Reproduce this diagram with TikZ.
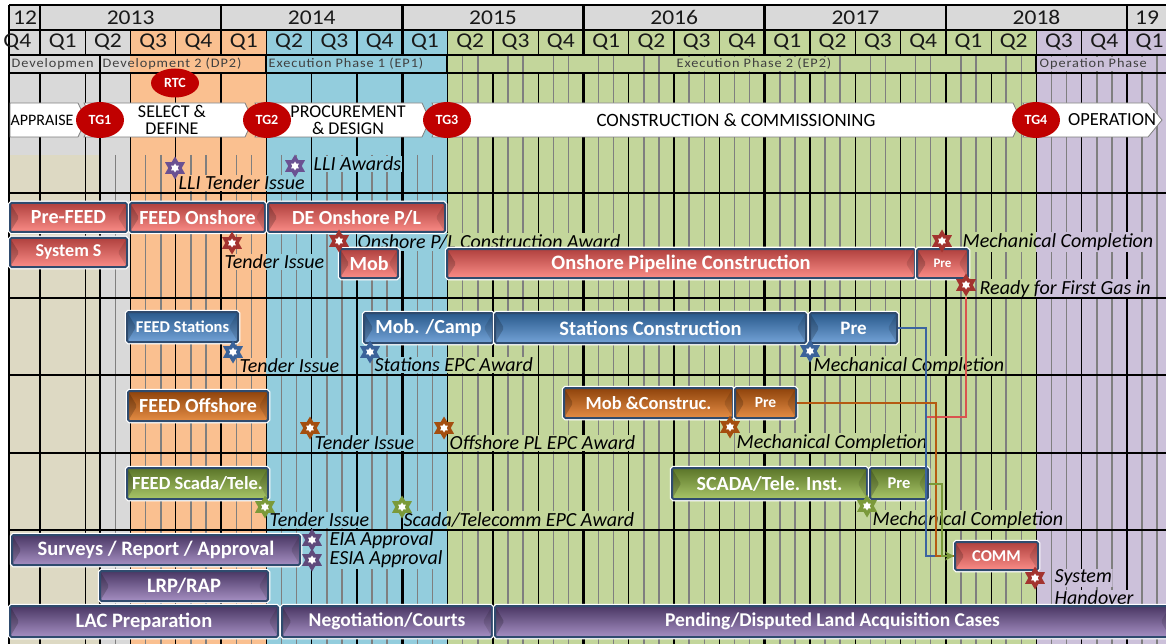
\documentclass[tikz,border=0pt]{standalone}
\usepackage{fontspec}
\setmainfont{Carlito}
\newfontfamily\hdfont[FakeStretch=1.12]{Carlito}
\newfontfamily\phfont[FakeStretch=1.1,LetterSpace=7]{Carlito}
\usetikzlibrary{shapes.geometric,arrows.meta}
\pgfdeclarelayer{bg}
\pgfdeclarelayer{patch}
\pgfsetlayers{bg,patch,main}

\definecolor{cgrey}{HTML}{D9D9D9}
\definecolor{cbeige}{HTML}{DDD9C3}
\definecolor{corange}{HTML}{FAC090}
\definecolor{cblue}{HTML}{93CDDD}
\definecolor{cgreen}{HTML}{C3D69B}
\definecolor{cpurple}{HTML}{CCC1DA}
\definecolor{mgrey}{HTML}{7F7F7F}
\definecolor{tgred}{HTML}{C00000}
\definecolor{baredge}{HTML}{2F4B6E}
\definecolor{redT}{HTML}{B0413E}
\definecolor{redM}{HTML}{D95E5A}
\definecolor{redB}{HTML}{FA8C87}
\definecolor{bluT}{HTML}{2A5A8C}
\definecolor{bluM}{HTML}{3F72AB}
\definecolor{bluB}{HTML}{73A2D6}
\definecolor{oraT}{HTML}{8E430B}
\definecolor{oraM}{HTML}{BB5C17}
\definecolor{oraB}{HTML}{E58D45}
\definecolor{grnT}{HTML}{5B7529}
\definecolor{grnM}{HTML}{7D9B3D}
\definecolor{grnB}{HTML}{A8C568}
\definecolor{purT}{HTML}{4A3764}
\definecolor{purM}{HTML}{6B5389}
\definecolor{purB}{HTML}{A58FC2}
\definecolor{sPur}{HTML}{6B5192}
\definecolor{sRed}{HTML}{A3332F}
\definecolor{sBlu}{HTML}{3A6299}
\definecolor{sOra}{HTML}{A44E0F}
\definecolor{sGrn}{HTML}{7B9A3A}
\definecolor{sPur2}{HTML}{5F4A7B}
\definecolor{lBlu}{HTML}{3C64A0}
\definecolor{lOra}{HTML}{B55A12}
\definecolor{lGrn}{HTML}{7A9A3A}
\definecolor{lRed}{HTML}{D9534F}
\definecolor{phtext}{HTML}{404040}

\tikzset{
  hline/.style={black,line width=1.8pt},
  qline/.style={black,line width=1.2pt},
  yline/.style={black,line width=2.6pt},
  mline/.style={mgrey,line width=1.5pt},
  gbar/.style={rectangle,rounded corners=1.5pt,draw=baredge,line width=2pt,
    preaction={draw=white,line width=4.5pt},text=white,inner sep=0pt,
    path picture={
      \fill[black,opacity=0.2] (path picture bounding box.north west) -- ([xshift=9pt]path picture bounding box.west) -- (path picture bounding box.south west) -- cycle;
      \fill[black,opacity=0.12] (path picture bounding box.north east) -- ([xshift=-9pt]path picture bounding box.east) -- (path picture bounding box.south east) -- cycle;}},
  redbar/.style={gbar,top color=redT,middle color=redM,bottom color=redB},
  blubar/.style={gbar,top color=bluT,middle color=bluM,bottom color=bluB},
  orabar/.style={gbar,top color=oraT,middle color=oraM,bottom color=oraB},
  grnbar/.style={gbar,top color=grnT,middle color=grnM,bottom color=grnB},
  purbar/.style={gbar,top color=purT,middle color=purM,bottom color=purB},
  mst/.style={star,star points=6,star point ratio=1.7,minimum size=23pt,inner sep=0pt,draw=none},
  mstin/.style={star,star points=6,star point ratio=1.7,minimum size=9pt,inner sep=0pt,fill=white,draw=none},
  mlabel/.style={anchor=west,inner sep=0.5pt,font=\itshape\fontsize{20}{20}\selectfont},
  tg/.style={ellipse,fill=tgred,text=white,inner sep=0pt,font=\bfseries\fontsize{14}{14}\selectfont},
  chev/.style={fill=white,draw=mgrey,line width=0.8pt},
  chevtext/.style={align=center,font=\fontsize{18}{17}\selectfont,inner sep=0pt},
  yrtext/.style={font=\hdfont\fontsize{21}{21}\selectfont,text=black!90,inner sep=0pt},
  phlabel/.style={anchor=west,inner sep=0.5pt,text=phtext,font=\phfont\fontsize{13}{13}\selectfont},
  con/.style={line width=2pt},
}

\newcommand\bodybg{%
  \fill[cgrey] (10,55) rectangle (130,644);
  \fill[cbeige] (10,155) rectangle (100,644);
  \fill[corange] (130,55) rectangle (266,644);
  \fill[cblue] (266,55) rectangle (447,644);
  \fill[cgreen] (447,55) rectangle (1036,644);
  \fill[cpurple] (1036,55) rectangle (1170,644);}
\newcommand\lblpatch[1]{\begin{pgfonlayer}{patch}\begin{scope}
  \clip (#1.south west) rectangle (#1.north east); \bodybg\end{scope}\end{pgfonlayer}}
\newcommand\ml[4]{\node[mlabel] (#1) at (#2,#3) {#4}; \lblpatch{#1}}
\newcommand\ms[3]{\node[mst,fill=#3] (#1) at (#2) {}; \node[mstin] (#1in) at (#1.center) {};}
\newcommand\gb[8]{\node[#2,minimum width={(#5-#3)*1pt},minimum height={(#6-#4)*1pt},
  font=\bfseries\fontsize{#7}{#7}\selectfont] (#1) at ({(#3+#5)/2},{(#4+#6)/2}) {#8};}

\begin{document}
\begin{tikzpicture}[x=1pt,y=-1pt]
\useasboundingbox (0,0) rectangle (1166,644);
\begin{pgfonlayer}{bg}
  \fill[white] (0,0) rectangle (1166,644);
  % header rows
  \fill[cgrey] (10,5) rectangle (1170,30);
  \fill[cgrey] (10,30) rectangle (130,55);
  \fill[corange] (130,30) rectangle (266,55);
  \fill[cblue] (266,30) rectangle (447,55);
  \fill[cgreen] (447,30) rectangle (1036,55);
  \fill[cpurple] (1036,30) rectangle (1170,55);
  \bodybg
  % month lines
  \foreach \m in {4,...,74}{
    \pgfmathtruncatemacro\r{mod(\m,3)}
    \ifnum\r>0
      \pgfmathsetmacro\xx{40+15.0967*\m}
      \pgfmathsetmacro\ys{\xx>447?55:155}
      \draw[mline] (\xx,\ys) -- (\xx,644);
    \fi}
  % quarter and year lines
  \foreach \k in {0,...,24}{
    \pgfmathsetmacro\xx{40+45.29*\k}
    \pgfmathtruncatemacro\r{mod(\k,4)}
    \ifnum\r=0
      \draw[yline] (\xx,5) -- (\xx,55);
      \draw[yline] (\xx,73) -- (\xx,644);
    \else
      \draw[qline] (\xx,30) -- (\xx,55);
      \draw[qline] (\xx,73) -- (\xx,644);
    \fi}
  \draw[qline] (100,55) -- (100,644);
  \foreach \xx in {266,447,1036} \draw[qline] (\xx,55) -- (\xx,73);
\end{pgfonlayer}

% horizontal rules
\foreach \yy in {5,30,55} \draw[qline] (9,\yy) -- (1166,\yy);
\draw[hline] (9,73) -- (1166,73);
\foreach \yy in {193,298,375,453,530} \draw[hline] (9,\yy) -- (1166,\yy);
\draw[black,line width=2pt] (9,5) -- (9,644);

% header text
\node[yrtext] (y12) at (25,17.5) {12};
\node[yrtext] (y13) at (130.6,17.5) {2013};
\node[yrtext] (y14) at (311.8,17.5) {2014};
\node[yrtext] (y15) at (493,17.5) {2015};
\node[yrtext] (y16) at (674.2,17.5) {2016};
\node[yrtext] (y17) at (855.4,17.5) {2017};
\node[yrtext] (y18) at (1036.5,17.5) {2018};
\node[yrtext] (y19) at (1147,17.5) {19};
\foreach \k in {-1,...,24}{
  \pgfmathtruncatemacro\q{mod(\k+4,4)+1}
  \pgfmathsetmacro\xx{40+45.29*(\k+0.5)}
  \node[yrtext] (q\k) at (\xx,42.5) {Q\q};}

% phase labels
\node[phlabel] (ph1) at (11,64) {Developmen}; \lblpatch{ph1}
\node[phlabel] (ph2) at (102,64) {Development 2 (DP2)}; \lblpatch{ph2}
\node[phlabel] (ph3) at (268,64) {Execution Phase 1 (EP1)}; \lblpatch{ph3}
\node[phlabel] (ph4) at (676,64) {Execution Phase 2 (EP2)}; \lblpatch{ph4}
\node[phlabel] (ph5) at (1039,64) {Operation Phase}; \lblpatch{ph5}

% stage chevrons
\draw[chev] (10,103) -- (78,103) -- (86,120) -- (78,137) -- (10,137) -- cycle;
\draw[chev] (84,103) -- (245,103) -- (253,120) -- (245,137) -- (84,137) -- (92,120) -- cycle;
\draw[chev] (255,103) -- (422,103) -- (430,120) -- (422,137) -- (255,137) -- (263,120) -- cycle;
\draw[chev] (432,103) -- (1013,103) -- (1021,120) -- (1013,137) -- (432,137) -- (440,120) -- cycle;
\draw[chev] (1023,103) -- (1148,103) -- (1162,120) -- (1148,137) -- (1023,137) -- (1031,120) -- cycle;
\node[chevtext,font=\fontsize{16}{16}\selectfont] (tApp) at (42,120) {APPRAISE};
\node[chevtext] (tSel) at (172,120) {SELECT \&\\DEFINE};
\node[chevtext] (tPro) at (348,120) {PROCUREMENT\\\& DESIGN};
\node[chevtext,font=\fontsize{18.8}{18}\selectfont] (tCon) at (736,120) {CONSTRUCTION \& COMMISSIONING};
\node[chevtext,font=\fontsize{18.5}{18}\selectfont] (tOpe) at (1112,120) {OPERATION};
\node[tg,minimum width=48pt,minimum height=29pt] (rtc) at (175,83) {RTC};
\node[tg,minimum width=48pt,minimum height=36pt] (tg1) at (100,120) {TG1};
\node[tg,minimum width=48pt,minimum height=36pt] (tg2) at (267,120) {TG2};
\node[tg,minimum width=48pt,minimum height=36pt] (tg3) at (447,120) {TG3};
\node[tg,minimum width=48pt,minimum height=36pt] (tg4) at (1036,120) {TG4};

% milestone labels
\ml{lLLIt}{178}{183}{LLI Tender Issue}
\ml{lLLIa}{313}{164}{LLI Awards}
\ml{lOnT}{224}{262}{Tender Issue}
\ml{lOnA}{357}{242}{Onshore P/L Construction Award}
\ml{lOnM}{962}{242}{Mechanical Completion}
\ml{lOnR}{979}{289}{Ready for First Gas in}
\ml{lStT}{239}{366}{Tender Issue}
\ml{lStA}{374}{365}{Stations EPC Award}
\ml{lStM}{813}{366}{Mechanical Completion}
\ml{lOfT}{314}{443}{Tender Issue}
\ml{lOfA}{449}{443}{Offshore PL EPC Award}
\ml{lOfM}{736}{443}{Mechanical Completion}
\ml{lScT}{269}{520}{Tender Issue}
\ml{lScA}{403}{520}{Scada/Telecomm EPC Award}
\ml{lScM}{872}{520}{Mechanical Completion}
\ml{lEIA}{329}{540}{EIA Approval}
\ml{lESIA}{329}{559}{ESIA Approval}
\ml{lSys}{1054}{578}{System}
\ml{lHand}{1054}{598}{Handover}

% bars
\gb{prefeed}{redbar}{10}{203}{127}{232}{20}{Pre-FEED}
\gb{feedon}{redbar}{130}{203}{265}{232}{20}{FEED Onshore}
\gb{deon}{redbar}{268}{203}{445}{232}{20}{DE Onshore P/L}
\gb{systems}{redbar}{10}{238}{127}{267}{18}{System S}
\gb{mob}{redbar}{340}{249}{398}{278}{20}{Mob}
\gb{onpipe}{redbar}{447}{249}{915}{278}{20.5}{Onshore Pipeline Construction}
\gb{onpre}{redbar}{917}{249}{968}{278}{13}{Pre}
\gb{feedst}{blubar}{127}{312}{238}{342}{16.5}{FEED Stations}
\gb{mobcamp}{blubar}{364}{313}{493}{343}{20}{Mob. /Camp}
\gb{stcon}{blubar}{495}{313}{806}{343}{20.5}{Stations Construction}
\gb{stpre}{blubar}{810}{313}{897}{343}{19}{Pre}
\gb{feedoff}{orabar}{128}{391}{268}{421}{20}{FEED Offshore}
\gb{mobcon}{orabar}{564}{388}{733}{418}{18.5}{Mob \&Construc.}
\gb{offpre}{orabar}{735}{388}{796}{418}{15.5}{Pre}
\gb{feedsc}{grnbar}{127}{468}{268}{499}{18.5}{FEED Scada/Tele.}
\gb{scinst}{grnbar}{672}{468}{867}{499}{20}{SCADA/Tele. Inst.}
\gb{scpre}{grnbar}{870}{468}{928}{499}{16.5}{Pre}
\gb{surveys}{purbar}{12}{535}{300}{565}{20.5}{Surveys / Report / Approval}
\gb{lrp}{purbar}{100}{571}{268}{601}{20.5}{LRP/RAP}
\gb{comm}{redbar}{955}{542}{1038}{570}{16.5}{COMM}
\gb{lac}{purbar}{10}{606}{278}{637}{20.5}{LAC Preparation}
\gb{nego}{purbar}{282}{606}{492}{637}{19.5}{Negotiation/Courts}
\gb{pending}{purbar}{495}{606}{1170}{637}{19.5}{Pending/Disputed Land Acquisition Cases}

% milestone stars
\ms{sLLIt}{175,168}{sPur}
\ms{sLLIa}{295,166}{sPur}
\ms{sOnT}{232,243}{sRed}
\ms{sOnA}{339,241}{sRed}
\ms{sOnM}{942,241}{sRed}
\ms{sOnR}{966,285}{sRed}
\ms{sStT}{233,352}{sBlu}
\ms{sStA}{370,352}{sBlu}
\ms{sStM}{810,351}{sBlu}
\ms{sOfT}{310,428}{sOra}
\ms{sOfA}{444,428}{sOra}
\ms{sOfM}{730,427}{sOra}
\ms{sScT}{265,507}{sGrn}
\ms{sScA}{402,507}{sGrn}
\ms{sScM}{867,506}{sGrn}
\ms{sEIA}{312,540}{sPur2}
\ms{sESIA}{312,560}{sPur2}
\ms{sSys}{1035,578}{sRed}

% connectors
\coordinate (redj) at (926,417);
\draw[con,lRed] (sOnR.south) |- (redj);
\draw[con,lBlu] (stpre.east) -- ++(28,0) |- (comm.west);
\draw[con,lOra] (offpre.east) -- ++(139,0) |- (comm.west);
\draw[con,lGrn,-{Stealth[length=9pt,width=9pt]}] (scpre.east) -- ++(13,0) |- (comm.west);
\end{tikzpicture}
\end{document}
